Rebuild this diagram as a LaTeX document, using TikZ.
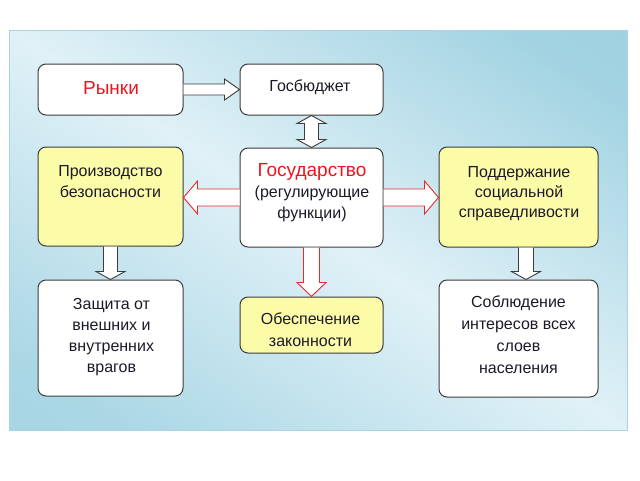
\documentclass[tikz,border=0pt]{standalone}
\usepackage{fontspec}
\setmainfont{Liberation Sans}
\usetikzlibrary{calc}
\definecolor{bgtr}{RGB}{148,204,221}
\definecolor{bgmid}{RGB}{224,241,247}
\definecolor{bgbl}{RGB}{158,209,225}
\definecolor{bgedge}{RGB}{170,212,226}
\definecolor{boxline}{RGB}{60,60,60}
\definecolor{boxyellow}{RGB}{252,251,168}
\definecolor{txtdark}{RGB}{30,25,40}
\definecolor{redtxt}{RGB}{240,20,30}
\definecolor{redline}{RGB}{235,40,40}
\pgfdeclareverticalshading{panelshade}{100bp}{color(0bp)=(bgbl); color(22bp)=(bgbl!80!bgmid); color(50bp)=(bgmid); color(78bp)=(bgtr!80!bgmid); color(100bp)=(bgtr)}
\begin{document}
\begin{tikzpicture}[x=1pt,y=-1pt,
  box/.style={draw=boxline, line width=1pt, rounded corners=8pt, fill=white, inner sep=0pt},
  ybox/.style={box, fill=boxyellow},
  txt/.style={font=\fontsize{16}{21}\selectfont, align=center, text=txtdark, inner sep=0pt, anchor=base},
  rtxt/.style={font=\fontsize{19}{21}\selectfont, text=redtxt, inner sep=0pt, anchor=base},
  warrow/.style={draw=boxline, fill=white, line width=0.9pt, line join=miter},
  rarrow/.style={draw=redline, fill=white, line width=0.9pt, line join=miter}]
\useasboundingbox (0,0) rectangle (640,480);
\fill[white] (0,0) rectangle (640,480);
\begin{scope}[y=1pt]
\shade[shading=panelshade, shading angle=-33] (9,-430) rectangle (627,-30);
\end{scope}
\draw[bgedge, line width=0.8pt] (9,30) rectangle (627,430);

% boxes
\node[box, minimum width=145pt, minimum height=51pt] (R) at (110.5,89.5) {};
\node[box, minimum width=143pt, minimum height=51pt] (GB) at (311.5,89.5) {};
\node[ybox, minimum width=145pt, minimum height=99pt] (P) at (110.5,196.5) {};
\node[box, minimum width=143pt, minimum height=99pt] (G) at (311.5,197.5) {};
\node[ybox, minimum width=159pt, minimum height=100pt] (S) at (518.5,197) {};
\node[box, minimum width=145pt, minimum height=116pt] (Z) at (110.5,338) {};
\node[ybox, minimum width=143pt, minimum height=56pt] (O) at (311.5,325) {};
\node[box, minimum width=159pt, minimum height=117pt] (C) at (518.5,338.5) {};

% texts (base anchor = last line's baseline)
\node[rtxt] (tR) at (111,94) {Рынки};
\node[txt] (tGB) at (310,91.7) {Госбюджет};
\node[txt] (tP) at (110.5,197.5) {Производство\\безопасности};
\node[txt] (tG) at (312,218) {{\fontsize{19}{21}\selectfont\color{redtxt}Государство}\\(регулирующие\\функции)};
\node[txt, font=\fontsize{16}{20}\selectfont] (tS) at (519,217) {Поддержание\\социальной\\справедливости};
\node[txt] (tZ) at (111.5,372.3) {Защита от\\внешних и\\внутренних\\врагов};
\node[txt, font=\fontsize{16}{22}\selectfont] (tO) at (310.5,346) {Обеспечение\\законности};
\node[txt, font=\fontsize{16}{21.7}\selectfont] (tC) at (518.5,373) {Соблюдение\\интересов всех\\слоев\\населения};

% R -> GB
\draw[warrow] ($(R.east)+(0,-5.5)$) -- ($(GB.west)+(-15,-5.5)$) -- ($(GB.west)+(-15,-10.5)$)
  -- (GB.west) -- ($(GB.west)+(-15,10.5)$) -- ($(GB.west)+(-15,5.5)$) -- ($(R.east)+(0,5.5)$);
% GB <-> G
\draw[warrow] (GB.south) -- ($(GB.south)+(14.5,8)$) -- ($(GB.south)+(7,8)$)
  -- ($(G.north)+(7,-8)$) -- ($(G.north)+(14.5,-8)$) -- (G.north)
  -- ($(G.north)+(-14.5,-8)$) -- ($(G.north)+(-7,-8)$) -- ($(GB.south)+(-7,8)$)
  -- ($(GB.south)+(-14.5,8)$) -- cycle;
% G -> P
\coordinate (pE) at (P.east |- G.west);
\draw[rarrow] ($(G.west)+(0,-8.5)$) -- ($(pE)+(14,-8.5)$) -- ($(pE)+(14,-16.5)$)
  -- (pE) -- ($(pE)+(14,16.5)$) -- ($(pE)+(14,8.5)$) -- ($(G.west)+(0,8.5)$);
% G -> S
\coordinate (sW) at (S.west |- G.east);
\draw[rarrow] ($(G.east)+(0,-8.5)$) -- ($(sW)+(-14,-8.5)$) -- ($(sW)+(-14,-16.5)$)
  -- (sW) -- ($(sW)+(-14,16.5)$) -- ($(sW)+(-14,8.5)$) -- ($(G.east)+(0,8.5)$);
% G -> O
\draw[rarrow] ($(G.south)+(-8,0)$) -- ($(O.north)+(-8,-14)$) -- ($(O.north)+(-14.5,-14)$)
  -- (O.north) -- ($(O.north)+(14.5,-14)$) -- ($(O.north)+(8,-14)$) -- ($(G.south)+(8,0)$);
% P -> Z
\draw[warrow] ($(P.south)+(-7,0)$) -- ($(Z.north)+(-7,-8)$) -- ($(Z.north)+(-14.5,-8)$)
  -- (Z.north) -- ($(Z.north)+(14.5,-8)$) -- ($(Z.north)+(7,-8)$) -- ($(P.south)+(7,0)$);
% S -> C
\coordinate (sS) at ($(S.south)+(7.5,0)$);
\coordinate (cN) at ($(C.north)+(7.5,0)$);
\draw[warrow] ($(sS)+(-7.5,0)$) -- ($(cN)+(-7.5,-8)$) -- ($(cN)+(-14.5,-8)$)
  -- (cN) -- ($(cN)+(14.5,-8)$) -- ($(cN)+(7.5,-8)$) -- ($(sS)+(7.5,0)$);
\end{tikzpicture}
\end{document}
